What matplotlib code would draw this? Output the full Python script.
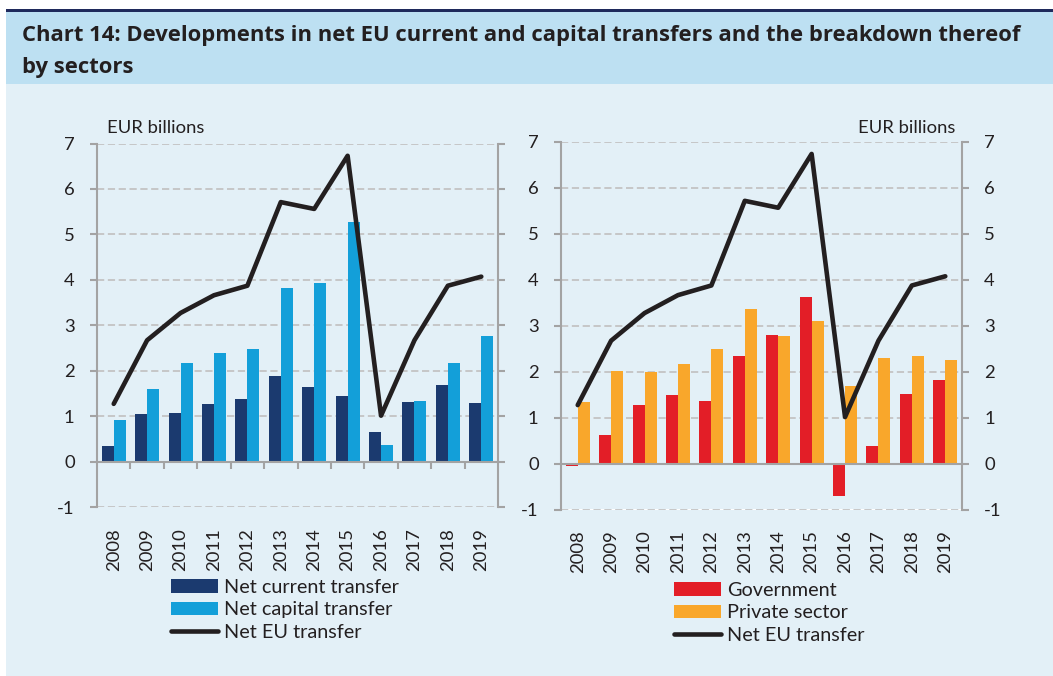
import matplotlib
matplotlib.use("Agg")
import matplotlib.pyplot as plt
from matplotlib.patches import Rectangle
from matplotlib.lines import Line2D
import numpy as np

plt.rcParams['font.family'] = ['Lato', 'DejaVu Sans']

years = ['2008', '2009', '2010', '2011', '2012', '2013', '2014', '2015',
         '2016', '2017', '2018', '2019']
net_current = [0.35, 1.05, 1.07, 1.26, 1.37, 1.88, 1.63, 1.44, 0.64, 1.32, 1.68, 1.28]
net_capital = [0.92, 1.60, 2.17, 2.38, 2.48, 3.81, 3.92, 5.28, 0.36, 1.34, 2.18, 2.77]
net_eu = [1.27, 2.67, 3.27, 3.66, 3.87, 5.71, 5.56, 6.73, 1.01, 2.67, 3.87, 4.07]
government = [-0.05, 0.63, 1.27, 1.49, 1.35, 2.34, 2.79, 3.61, -0.70, 0.38, 1.52, 1.82]
private = [1.33, 2.02, 1.98, 2.16, 2.50, 3.35, 2.77, 3.09, 1.69, 2.29, 2.34, 2.24]
yticks = [-1, 0, 1, 2, 3, 4, 5, 6, 7]
title_1 = 'Chart 14: Developments in net EU current and capital transfers and the breakdown thereof'
title_2 = 'by sectors'

C_DARK = '#1b3a6f'
C_LIGHT = '#139fd9'
C_RED = '#e31e27'
C_ORANGE = '#f9a72b'
C_LINE = '#231f20'
C_AX = '#a3a3a3'
C_GRID = '#c3c3c3'
C_TEXT = '#231f20'
BG = '#e3f0f7'
BAND = '#bde0f2'

fig = plt.figure(figsize=(10.53, 6.76), dpi=100, facecolor='white')
W, H = 1053, 676
def fx(px): return px / W
def fy(py): return 1 - py / H

fig.patches.append(Rectangle((fx(6), 0), 1 - fx(6), fy(84), transform=fig.transFigure,
                             facecolor=BG, edgecolor='none', zorder=-10))
fig.patches.append(Rectangle((fx(6), fy(84)), 1 - fx(6), fy(12) - fy(84), transform=fig.transFigure,
                             facecolor=BAND, edgecolor='none', zorder=-10))
fig.patches.append(Rectangle((fx(6), fy(12)), 1 - fx(6), fy(9) - fy(12), transform=fig.transFigure,
                             facecolor='#1f2a5c', edgecolor='none', zorder=-10))

TITLE_FONT = ['Open Sans', 'DejaVu Sans']
t1 = fig.text(fx(22), fy(36), title_1, fontsize=15, fontweight='bold', color=C_TEXT,
              va='center', ha='left', family=TITLE_FONT)
t2 = fig.text(fx(22), fy(67), title_2, fontsize=15, fontweight='bold', color=C_TEXT,
              va='center', ha='left', family=TITLE_FONT)
# fit the first title line to the reference width (about 1000 px)
renderer = fig.canvas.get_renderer()
w = t1.get_window_extent(renderer).width
new_size = 15 * 1000.0 / w
t1.set_fontsize(new_size)
t2.set_fontsize(new_size)

x = np.arange(len(years))
bw = 0.36
TICK_FS = 13.3

def setup(ax, right_labels):
    ax.set_facecolor('none')
    ax.set_xlim(-0.5, len(years) - 0.5)
    ax.set_ylim(-1, 7)
    ax.set_yticks(yticks)
    ax.set_yticklabels([str(v) for v in yticks])
    ax.yaxis.grid(True, color=C_GRID, linestyle=(0, (4, 2)), linewidth=1.3)
    ax.set_axisbelow(True)
    ax.spines['top'].set_visible(False)
    for s in ['left', 'right']:
        ax.spines[s].set_color(C_AX)
        ax.spines[s].set_linewidth(1.5)
    ax.spines['bottom'].set_position(('data', 0))
    ax.spines['bottom'].set_color(C_AX)
    ax.spines['bottom'].set_linewidth(1.5)
    ax.spines['bottom'].set_zorder(2.5)
    ax.tick_params(axis='y', which='both', left=True, right=True, direction='out',
                   length=5, width=1.5, color=C_AX, labelsize=TICK_FS, labelcolor=C_TEXT,
                   pad=11, labelleft=True, labelright=right_labels)
    ax.set_xticks([])
    sec = ax.secondary_xaxis(0.0)
    sec.set_xticks(x)
    sec.set_xticklabels(years, rotation=90, fontsize=TICK_FS, color=C_TEXT)
    sec.tick_params(axis='x', length=0, pad=15)
    sec.spines['bottom'].set_visible(False)
    return sec

# Left chart
ax1 = fig.add_axes([fx(97), fy(507), fx(498) - fx(97), fy(143.5) - fy(507)])
setup(ax1, False)
ax1.set_xticks(np.arange(len(years) - 1) + 0.5, minor=True)
ax1.tick_params(axis='x', which='minor', bottom=True, direction='out', length=5,
                width=1.5, color=C_AX)
ax1.bar(x - bw / 2, net_current, width=bw, color=C_DARK, zorder=2, label='Net current transfer')
ax1.bar(x + bw / 2, net_capital, width=bw, color=C_LIGHT, zorder=2, label='Net capital transfer')
ax1.plot(x, net_eu, color=C_LINE, linewidth=3.3, zorder=3, label='Net EU transfer',
         solid_capstyle='round')
ax1.text(fx(107), fy(128), 'EUR billions', transform=fig.transFigure, fontsize=TICK_FS,
         color=C_TEXT, va='center', ha='left')

# Right chart
ax2 = fig.add_axes([fx(561), fy(509.5), fx(962) - fx(561), fy(141.5) - fy(509.5)])
setup(ax2, True)
ax2.tick_params(axis='x', which='both', bottom=False)
ax2.bar(x - bw / 2, government, width=bw, color=C_RED, zorder=2, label='Government')
ax2.bar(x + bw / 2, private, width=bw, color=C_ORANGE, zorder=2, label='Private sector')
ax2.plot(x, net_eu, color=C_LINE, linewidth=3.3, zorder=3, label='Net EU transfer',
         solid_capstyle='round')
ax2.text(fx(955), fy(128), 'EUR billions', transform=fig.transFigure, fontsize=TICK_FS,
         color=C_TEXT, va='center', ha='right')

LEG_FS = 14.3
def make_legend(colors, labels, left_px, top_px):
    handles = [Rectangle((0, 0), 1, 1, facecolor=colors[0], edgecolor='none'),
               Rectangle((0, 0), 1, 1, facecolor=colors[1], edgecolor='none'),
               Line2D([0], [0], color=C_LINE, linewidth=3.3, solid_capstyle='round')]
    leg = fig.legend(handles, labels, loc='upper left',
                     bbox_to_anchor=(fx(left_px), fy(top_px)), bbox_transform=fig.transFigure,
                     frameon=False, fontsize=LEG_FS, handlelength=2.37, handleheight=0.68,
                     handletextpad=0.3, labelspacing=0.27, borderpad=0, borderaxespad=0,
                     labelcolor=C_TEXT)
    return leg

make_legend([C_DARK, C_LIGHT], ['Net current transfer', 'Net capital transfer', 'Net EU transfer'],
            171, 579)
make_legend([C_RED, C_ORANGE], ['Government', 'Private sector', 'Net EU transfer'],
            674, 582)

fig.savefig('out.png', dpi=100, facecolor=fig.get_facecolor())
